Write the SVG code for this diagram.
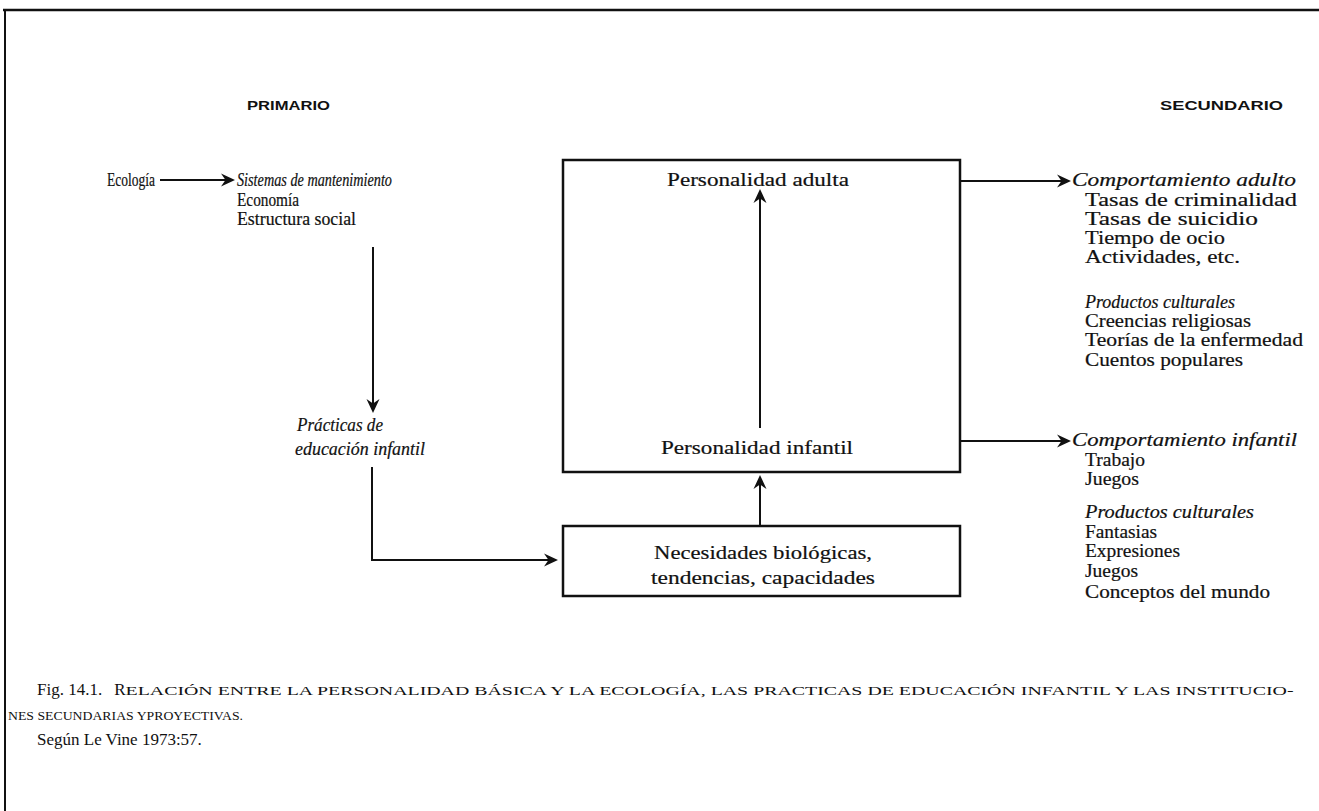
<svg xmlns="http://www.w3.org/2000/svg" width="1319" height="811" viewBox="0 0 1319 811">
<style>
.t{font-family:"Liberation Serif","Times New Roman",serif;font-size:18px;fill:#111;stroke:#111;stroke-width:0.2;}
.i{font-style:italic;}
.h{font-family:"Liberation Sans",Arial,sans-serif;font-size:12px;font-weight:bold;fill:#111;}
.c{font-family:"Liberation Serif","Times New Roman",serif;fill:#111;}
.box{fill:none;stroke:#111;stroke-width:2.5;}
.ln{fill:none;stroke:#111;stroke-width:2;}
</style>
<defs>
<marker id="ah" markerWidth="14" markerHeight="14" refX="12" refY="7" orient="auto" markerUnits="userSpaceOnUse">
<path d="M0,0.5 L14,7 L0,13.5 L4.5,7 z" fill="#111"/>
</marker>
</defs>
<rect width="1319" height="811" fill="#fff"/>
<g id="frame">
<line x1="3" y1="10" x2="1319" y2="10" stroke="#111" stroke-width="2.5"/>
<line x1="5" y1="10" x2="5" y2="811" stroke="#111" stroke-width="2"/>
</g>
<g id="headers">
<text class="h" x="247" y="110" textLength="83" lengthAdjust="spacingAndGlyphs">PRIMARIO</text>
<text class="h" x="1160" y="110" textLength="123" lengthAdjust="spacingAndGlyphs">SECUNDARIO</text>
</g>
<g id="ecologia">
<text class="t" x="107" y="186" font-size="17" textLength="48" lengthAdjust="spacingAndGlyphs">Ecología</text>
</g>
<g id="sistemas">
<text class="t i" x="237" y="186" font-size="17" textLength="155" lengthAdjust="spacingAndGlyphs">Sistemas de mantenimiento</text>
<text class="t" x="237" y="206" font-size="17" textLength="62" lengthAdjust="spacingAndGlyphs">Economía</text>
<text class="t" x="237" y="225" font-size="17" textLength="119" lengthAdjust="spacingAndGlyphs">Estructura social</text>
</g>
<g id="practicas">
<text class="t i" x="297" y="431" font-size="17" textLength="86" lengthAdjust="spacingAndGlyphs">Prácticas de</text>
<text class="t i" x="295" y="455" font-size="17" textLength="130" lengthAdjust="spacingAndGlyphs">educación infantil</text>
</g>
<g id="personalidad">
<rect class="box" x="563" y="160" width="397" height="312"/>
<text class="t" x="758" y="186" text-anchor="middle" textLength="182" lengthAdjust="spacingAndGlyphs">Personalidad adulta</text>
<text class="t" x="757" y="454" text-anchor="middle" textLength="192" lengthAdjust="spacingAndGlyphs">Personalidad  infantil</text>
</g>
<g id="necesidades">
<rect class="box" x="563" y="526" width="397" height="70"/>
<text class="t" x="763" y="559" text-anchor="middle" textLength="218" lengthAdjust="spacingAndGlyphs">Necesidades biológicas,</text>
<text class="t" x="763" y="584" text-anchor="middle" textLength="224" lengthAdjust="spacingAndGlyphs">tendencias,  capacidades</text>
</g>
<g id="comportamiento-adulto">
<text class="t i" x="1072" y="186" textLength="224" lengthAdjust="spacingAndGlyphs">Comportamiento adulto</text>
<text class="t" x="1085" y="206" textLength="212" lengthAdjust="spacingAndGlyphs">Tasas de criminalidad</text>
<text class="t" x="1085" y="225" textLength="173" lengthAdjust="spacingAndGlyphs">Tasas de suicidio</text>
<text class="t" x="1085" y="244" textLength="140" lengthAdjust="spacingAndGlyphs">Tiempo de ocio</text>
<text class="t" x="1085" y="263" textLength="155" lengthAdjust="spacingAndGlyphs">Actividades, etc.</text>
</g>
<g id="productos-adultos">
<text class="t i" x="1085" y="308" textLength="150" lengthAdjust="spacingAndGlyphs">Productos culturales</text>
<text class="t" x="1085" y="327" textLength="166" lengthAdjust="spacingAndGlyphs">Creencias religiosas</text>
<text class="t" x="1085" y="346" textLength="218" lengthAdjust="spacingAndGlyphs">Teorías de la enfermedad</text>
<text class="t" x="1085" y="366" textLength="158" lengthAdjust="spacingAndGlyphs">Cuentos populares</text>
</g>
<g id="comportamiento-infantil">
<text class="t i" x="1072" y="446" textLength="225" lengthAdjust="spacingAndGlyphs">Comportamiento infantil</text>
<text class="t" x="1085" y="466" textLength="60" lengthAdjust="spacingAndGlyphs">Trabajo</text>
<text class="t" x="1085" y="485" textLength="54" lengthAdjust="spacingAndGlyphs">Juegos</text>
</g>
<g id="productos-infantiles">
<text class="t i" x="1085" y="518" textLength="169" lengthAdjust="spacingAndGlyphs">Productos culturales</text>
<text class="t" x="1085" y="538" textLength="72" lengthAdjust="spacingAndGlyphs">Fantasias</text>
<text class="t" x="1085" y="557" textLength="95" lengthAdjust="spacingAndGlyphs">Expresiones</text>
<text class="t" x="1085" y="577" textLength="53" lengthAdjust="spacingAndGlyphs">Juegos</text>
<text class="t" x="1085" y="598" textLength="185" lengthAdjust="spacingAndGlyphs">Conceptos del mundo</text>
</g>
<g id="connectors">
<line class="ln" x1="160" y1="180" x2="233" y2="180" stroke-width="3.5" marker-end="url(#ah)"/>
<line class="ln" x1="373" y1="247" x2="373" y2="411" marker-end="url(#ah)"/>
<polyline class="ln" points="372,467 372,560 556,560" marker-end="url(#ah)"/>
<line class="ln" x1="760" y1="428" x2="760" y2="191" marker-end="url(#ah)"/>
<line class="ln" x1="760" y1="526" x2="760" y2="477" stroke-width="2.5" marker-end="url(#ah)"/>
<line class="ln" x1="960" y1="181" x2="1069" y2="181" marker-end="url(#ah)"/>
<line class="ln" x1="960" y1="441" x2="1069" y2="441" marker-end="url(#ah)"/>
</g>
<g id="caption">
<text class="c" x="37" y="695" font-size="17">Fig. 14.1.<tspan dx="12">R</tspan><tspan font-size="13.5" textLength="1168" lengthAdjust="spacingAndGlyphs">ELACIÓN ENTRE LA PERSONALIDAD BÁSICA Y LA ECOLOGÍA, LAS PRACTICAS DE EDUCACIÓN INFANTIL Y LAS INSTITUCIO-</tspan></text>
<text class="c" x="8" y="720" font-size="13.5" textLength="235" lengthAdjust="spacingAndGlyphs">NES SECUNDARIAS YPROYECTIVAS.</text>
<text class="c" x="37" y="745" font-size="17">Según Le Vine 1973:57.</text>
</g>
</svg>
